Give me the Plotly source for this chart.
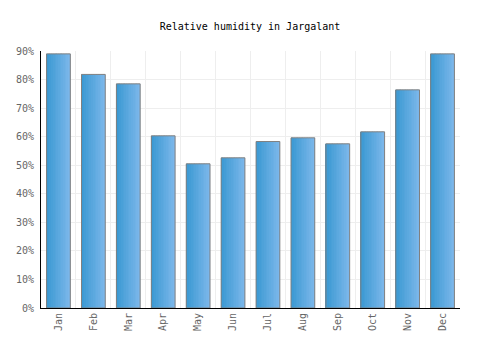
import plotly.graph_objects as go

months = ["Jan", "Feb", "Mar", "Apr", "May", "Jun", "Jul", "Aug", "Sep", "Oct", "Nov", "Dec"]
humidity = [89.0, 81.8, 78.5, 60.3, 50.5, 52.6, 58.3, 59.6, 57.5, 61.7, 76.4, 89.0]

title = "Relative humidity in Jargalant"
font_family = "DejaVu Sans Mono"

bar_w = 0.68
n_strips = 14
c0 = (58, 153, 210)
c1 = (122, 182, 234)

fig = go.Figure()
sw = bar_w / n_strips
for i in range(n_strips):
    t = i / (n_strips - 1)
    col = tuple(round(a + (b - a) * t) for a, b in zip(c0, c1))
    fig.add_trace(go.Bar(
        x=months, y=humidity,
        width=sw * 1.05, offset=-bar_w / 2 + i * sw,
        marker=dict(color=f"rgb{col}", line=dict(width=0)),
        hoverinfo="skip", showlegend=False,
    ))
fig.add_trace(go.Bar(
    x=months, y=humidity,
    width=bar_w, offset=-bar_w / 2,
    marker=dict(color="rgba(0,0,0,0)", line=dict(color="#808080", width=1)),
    showlegend=False,
))

fig.update_layout(
    width=500, height=350,
    margin=dict(l=41, r=40, t=51, b=42),
    barmode="overlay",
    plot_bgcolor="white", paper_bgcolor="white",
    title=dict(text=title, x=0.5, xanchor="center", y=0.925, yanchor="middle",
               font=dict(family=font_family, size=10, color="#000")),
    font=dict(family=font_family, size=10, color="#666"),
    xaxis=dict(type="category", tickson="boundaries", showgrid=True, gridcolor="#eeeeee",
               gridwidth=1, tickangle=-90, showline=True, linecolor="#000", linewidth=1,
               ticks="", ticklen=0, range=[-0.5, 11.5], zeroline=False),
    yaxis=dict(range=[0, 90], dtick=10, ticksuffix="%", showgrid=True, gridcolor="#eeeeee",
               showline=True, linecolor="#000", linewidth=1, ticks="", zeroline=False,
               ticklabelstandoff=4),
)

fig.write_html("out.html")
